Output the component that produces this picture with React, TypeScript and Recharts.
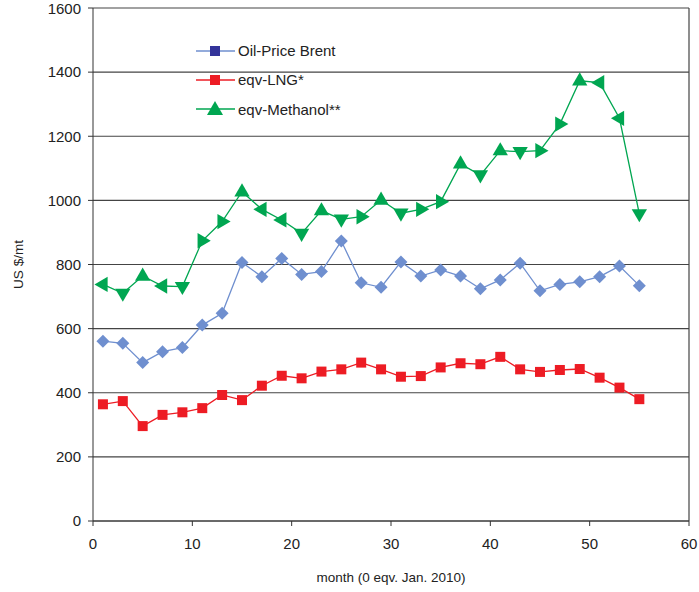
import React from 'react';
import {
  LineChart,
  Line,
  XAxis,
  YAxis,
  CartesianGrid,
  Label,
  ReferenceLine,
} from 'recharts';

// months since Jan. 2010
const months = [1, 3, 5, 7, 9, 11, 13, 15, 17, 19, 21, 23, 25, 27, 29, 31, 33, 35, 37, 39, 41, 43, 45, 47, 49, 51, 53, 55];

const brent = [561, 554, 494, 528, 541, 611, 648, 806, 762, 819, 769, 778, 873, 743, 729, 808, 764, 783, 764, 724, 752, 804, 718, 738, 746, 762, 795, 734];
const lng = [364, 374, 296, 331, 339, 352, 393, 377, 422, 453, 445, 466, 473, 494, 473, 450, 452, 479, 492, 489, 512, 473, 465, 471, 474, 447, 416, 380];
const methanol = [738, 710, 764, 733, 731, 874, 934, 1027, 972, 939, 897, 968, 941, 949, 1001, 960, 972, 996, 1114, 1079, 1155, 1152, 1155, 1238, 1373, 1367, 1256, 958];

const xTicks = [0, 10, 20, 30, 40, 50, 60];
const yTicks = [0, 200, 400, 600, 800, 1000, 1200, 1400, 1600];

const COLORS = {
  brent: '#6f8fcf',
  brentLegend: '#33349a',
  lng: '#ed1c24',
  methanol: '#00a651',
};

const FONT = '"Liberation Sans", Arial, sans-serif';

const data = months.map((m, i) => ({
  month: m,
  brent: brent[i],
  lng: lng[i],
  methanol: methanol[i],
}));

if (typeof document !== 'undefined') document.body.style.margin = '0';

function DiamondDot(props: any) {
  const { cx, cy } = props;
  if (cx == null || cy == null) return null;
  const r = 6.5;
  return (
    <polygon
      points={`${cx},${cy - r} ${cx + r},${cy} ${cx},${cy + r} ${cx - r},${cy}`}
      fill={COLORS.brent}
    />
  );
}

function SquareDot(props: any) {
  const { cx, cy } = props;
  if (cx == null || cy == null) return null;
  return <rect x={cx - 5} y={cy - 5} width={10} height={10} fill={COLORS.lng} />;
}

// triangles in the original turn with the line: up at peaks, down at dips
function TriangleDot(props: any) {
  const { cx, cy, index } = props;
  if (cx == null || cy == null) return null;
  const v = methanol[index];
  const prev = methanol[index - 1];
  const next = methanol[index + 1];
  let angle = 0;
  if (prev == null) angle = -90;
  else if (next == null) angle = 180;
  else if (v >= prev && v >= next) angle = 0;
  else if (v <= prev && v <= next) angle = 180;
  else angle = v > prev ? 90 : -90;
  const r = 8.5;
  return (
    <polygon
      points={`${cx},${cy - r} ${cx + r * 0.9},${cy + r * 0.55} ${cx - r * 0.9},${cy + r * 0.55}`}
      fill={COLORS.methanol}
      transform={`rotate(${angle} ${cx} ${cy})`}
    />
  );
}

function ChartLegend() {
  const rows = [
    { label: 'Oil-Price Brent', line: COLORS.brent, marker: 'square', color: COLORS.brentLegend },
    { label: 'eqv-LNG*', line: COLORS.lng, marker: 'square', color: COLORS.lng },
    { label: 'eqv-Methanol**', line: COLORS.methanol, marker: 'triangle', color: COLORS.methanol },
  ];
  return (
    <div style={{ fontFamily: FONT, fontSize: 15, color: '#222' }}>
      {rows.map((r) => (
        <div key={r.label} style={{ display: 'flex', alignItems: 'center', height: 29.3 }}>
          <svg width={40} height={16} style={{ marginRight: 2 }}>
            <line x1={0} y1={8} x2={39} y2={8} stroke={r.line} strokeWidth={1.3} />
            {r.marker === 'square' ? (
              <rect x={14} y={3} width={10} height={10} fill={r.color} />
            ) : (
              <polygon points="19,0 27,14 11,14" fill={r.color} />
            )}
          </svg>
          <span>{r.label}</span>
        </div>
      ))}
    </div>
  );
}

export default function App() {
  return (
    <div style={{ width: 699, height: 592, background: '#fff', position: 'relative' }}>
      <LineChart
        width={699}
        height={592}
        data={data}
        margin={{ top: 8, right: 10, left: 8, bottom: 5 }}
      >
        <CartesianGrid horizontal vertical={false} stroke="#444" strokeWidth={1.2} />
        <XAxis
          dataKey="month"
          type="number"
          domain={[0, 60]}
          ticks={xTicks}
          height={66}
          tickSize={5}
          tickMargin={12}
          stroke="#333"
          tick={{ fontSize: 15, fill: '#222', fontFamily: FONT }}
        >
          <Label
            content={({ viewBox }: any) => (
              <text
                x={viewBox.x + viewBox.width / 2}
                y={582}
                textAnchor="middle"
                fontSize={13.5}
                fontFamily={FONT}
                fill="#222"
              >
                month (0 eqv. Jan. 2010)
              </text>
            )}
          />
        </XAxis>
        <YAxis
          type="number"
          domain={[0, 1600]}
          ticks={yTicks}
          width={85}
          tickSize={5}
          tickMargin={7}
          stroke="#333"
          tick={{ fontSize: 15, fill: '#222', fontFamily: FONT }}
        >
          <Label
            content={({ viewBox }: any) => (
              <text
                x={23}
                y={viewBox.y + viewBox.height / 2}
                textAnchor="middle"
                fontSize={13.5}
                fontFamily={FONT}
                fill="#222"
                transform={`rotate(-90 23 ${viewBox.y + viewBox.height / 2})`}
              >
                US $/mt
              </text>
            )}
          />
        </YAxis>
        <ReferenceLine x={60} stroke="#444" strokeWidth={1.2} />
        <Line
          dataKey="brent"
          stroke={COLORS.brent}
          strokeWidth={1.3}
          dot={<DiamondDot />}
          activeDot={false}
          isAnimationActive={false}
        />
        <Line
          dataKey="lng"
          stroke={COLORS.lng}
          strokeWidth={1.3}
          dot={<SquareDot />}
          activeDot={false}
          isAnimationActive={false}
        />
        <Line
          dataKey="methanol"
          stroke={COLORS.methanol}
          strokeWidth={1.3}
          dot={<TriangleDot />}
          activeDot={false}
          isAnimationActive={false}
        />
      </LineChart>
      <div style={{ position: 'absolute', top: 36, left: 196 }}>
        <ChartLegend />
      </div>
    </div>
  );
}
